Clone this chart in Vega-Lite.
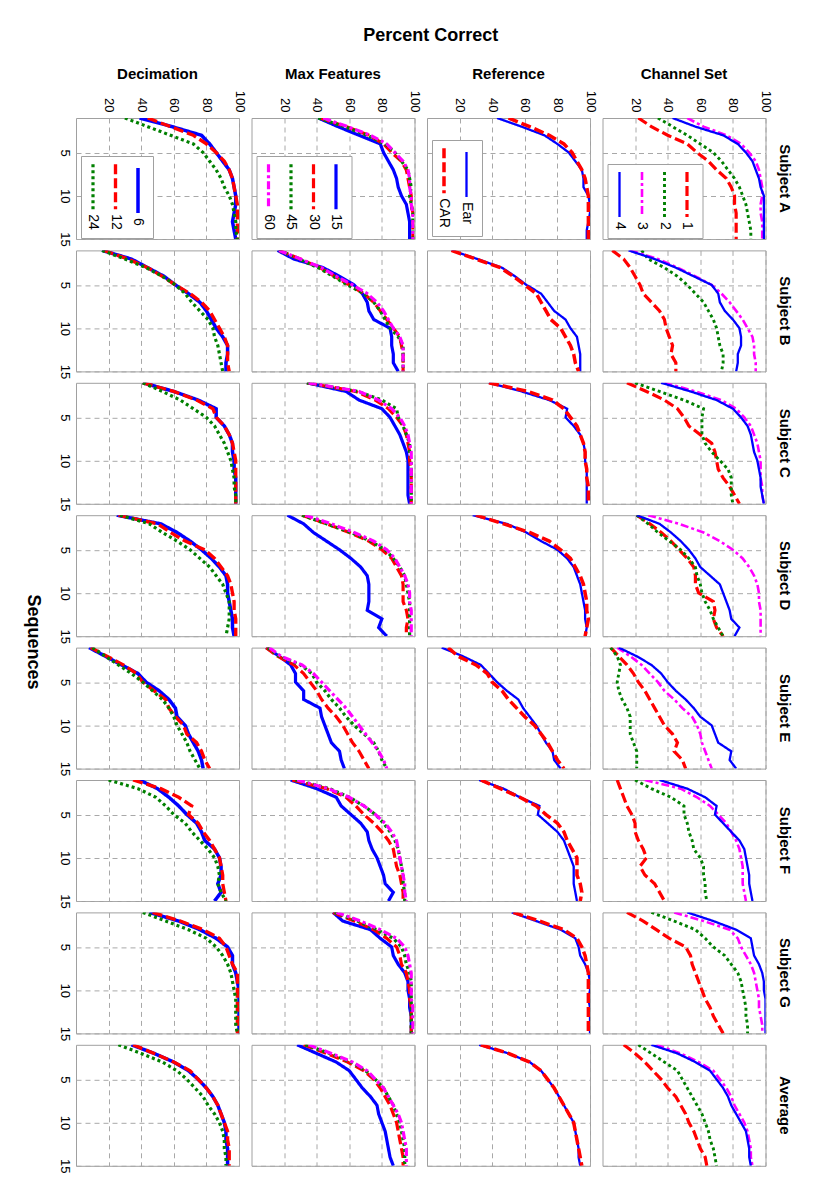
{
"$schema":"https://vega.github.io/schema/vega-lite/v6.json",
"padding":{"left":23,"top":27,"right":5,"bottom":5},
"background":"white",
"title":{"text":"Percent Correct","fontSize":18,"fontWeight":"bold","font":"Liberation Sans","anchor":"middle","offset":22,"dx":23,"color":"#000"},
"datasets":{
"dec":[
{"s":"A","k":6,"q":1,"p":39},{"s":"A","k":6,"q":2,"p":59},{"s":"A","k":6,"q":3,"p":77},{"s":"A","k":6,"q":4,"p":82},{"s":"A","k":6,"q":5,"p":86},{"s":"A","k":6,"q":6,"p":90},{"s":"A","k":6,"q":7,"p":94},{"s":"A","k":6,"q":8,"p":96},{"s":"A","k":6,"q":9,"p":97},{"s":"A","k":6,"q":10,"p":98},{"s":"A","k":6,"q":11,"p":98},{"s":"A","k":6,"q":12,"p":97},{"s":"A","k":6,"q":13,"p":96},{"s":"A","k":6,"q":14,"p":97},{"s":"A","k":6,"q":15,"p":98},
{"s":"A","k":12,"q":1,"p":44},{"s":"A","k":12,"q":2,"p":58},{"s":"A","k":12,"q":3,"p":72},{"s":"A","k":12,"q":4,"p":80},{"s":"A","k":12,"q":5,"p":86},{"s":"A","k":12,"q":6,"p":91},{"s":"A","k":12,"q":7,"p":94},{"s":"A","k":12,"q":8,"p":96},{"s":"A","k":12,"q":9,"p":97},{"s":"A","k":12,"q":10,"p":98},{"s":"A","k":12,"q":11,"p":99},{"s":"A","k":12,"q":12,"p":99},{"s":"A","k":12,"q":13,"p":99},{"s":"A","k":12,"q":14,"p":99},{"s":"A","k":12,"q":15,"p":99},
{"s":"A","k":24,"q":1,"p":30},{"s":"A","k":24,"q":2,"p":44},{"s":"A","k":24,"q":3,"p":58},{"s":"A","k":24,"q":4,"p":72},{"s":"A","k":24,"q":5,"p":78},{"s":"A","k":24,"q":6,"p":82},{"s":"A","k":24,"q":7,"p":86},{"s":"A","k":24,"q":8,"p":89},{"s":"A","k":24,"q":9,"p":91},{"s":"A","k":24,"q":10,"p":94},{"s":"A","k":24,"q":11,"p":96},{"s":"A","k":24,"q":12,"p":97},{"s":"A","k":24,"q":13,"p":98},{"s":"A","k":24,"q":14,"p":98},{"s":"A","k":24,"q":15,"p":99},
{"s":"B","k":6,"q":1,"p":16},{"s":"B","k":6,"q":2,"p":34},{"s":"B","k":6,"q":3,"p":44},{"s":"B","k":6,"q":4,"p":54},{"s":"B","k":6,"q":5,"p":61},{"s":"B","k":6,"q":6,"p":69},{"s":"B","k":6,"q":7,"p":76},{"s":"B","k":6,"q":8,"p":80},{"s":"B","k":6,"q":9,"p":83},{"s":"B","k":6,"q":10,"p":86},{"s":"B","k":6,"q":11,"p":90},{"s":"B","k":6,"q":12,"p":93},{"s":"B","k":6,"q":13,"p":93},{"s":"B","k":6,"q":14,"p":92},{"s":"B","k":6,"q":15,"p":92},
{"s":"B","k":12,"q":1,"p":17},{"s":"B","k":12,"q":2,"p":32},{"s":"B","k":12,"q":3,"p":44},{"s":"B","k":12,"q":4,"p":53},{"s":"B","k":12,"q":5,"p":61},{"s":"B","k":12,"q":6,"p":70},{"s":"B","k":12,"q":7,"p":77},{"s":"B","k":12,"q":8,"p":82},{"s":"B","k":12,"q":9,"p":85},{"s":"B","k":12,"q":10,"p":88},{"s":"B","k":12,"q":11,"p":91},{"s":"B","k":12,"q":12,"p":93},{"s":"B","k":12,"q":13,"p":93},{"s":"B","k":12,"q":14,"p":93},{"s":"B","k":12,"q":15,"p":94},
{"s":"B","k":24,"q":1,"p":16},{"s":"B","k":24,"q":2,"p":30},{"s":"B","k":24,"q":3,"p":43},{"s":"B","k":24,"q":4,"p":53},{"s":"B","k":24,"q":5,"p":61},{"s":"B","k":24,"q":6,"p":67},{"s":"B","k":24,"q":7,"p":71},{"s":"B","k":24,"q":8,"p":76},{"s":"B","k":24,"q":9,"p":81},{"s":"B","k":24,"q":10,"p":84},{"s":"B","k":24,"q":11,"p":85},{"s":"B","k":24,"q":12,"p":87},{"s":"B","k":24,"q":13,"p":88},{"s":"B","k":24,"q":14,"p":89},{"s":"B","k":24,"q":15,"p":90},
{"s":"C","k":6,"q":1,"p":41},{"s":"C","k":6,"q":2,"p":60},{"s":"C","k":6,"q":3,"p":75},{"s":"C","k":6,"q":4,"p":86},{"s":"C","k":6,"q":5,"p":86},{"s":"C","k":6,"q":6,"p":91},{"s":"C","k":6,"q":7,"p":94},{"s":"C","k":6,"q":8,"p":96},{"s":"C","k":6,"q":9,"p":96},{"s":"C","k":6,"q":10,"p":97},{"s":"C","k":6,"q":11,"p":97},{"s":"C","k":6,"q":12,"p":98},{"s":"C","k":6,"q":13,"p":98},{"s":"C","k":6,"q":14,"p":98},{"s":"C","k":6,"q":15,"p":98},
{"s":"C","k":12,"q":1,"p":41},{"s":"C","k":12,"q":2,"p":60},{"s":"C","k":12,"q":3,"p":74},{"s":"C","k":12,"q":4,"p":84},{"s":"C","k":12,"q":5,"p":86},{"s":"C","k":12,"q":6,"p":91},{"s":"C","k":12,"q":7,"p":94},{"s":"C","k":12,"q":8,"p":96},{"s":"C","k":12,"q":9,"p":97},{"s":"C","k":12,"q":10,"p":98},{"s":"C","k":12,"q":11,"p":98},{"s":"C","k":12,"q":12,"p":98},{"s":"C","k":12,"q":13,"p":98},{"s":"C","k":12,"q":14,"p":98},{"s":"C","k":12,"q":15,"p":98},
{"s":"C","k":24,"q":1,"p":41},{"s":"C","k":24,"q":2,"p":53},{"s":"C","k":24,"q":3,"p":64},{"s":"C","k":24,"q":4,"p":72},{"s":"C","k":24,"q":5,"p":80},{"s":"C","k":24,"q":6,"p":85},{"s":"C","k":24,"q":7,"p":88},{"s":"C","k":24,"q":8,"p":91},{"s":"C","k":24,"q":9,"p":93},{"s":"C","k":24,"q":10,"p":95},{"s":"C","k":24,"q":11,"p":96},{"s":"C","k":24,"q":12,"p":97},{"s":"C","k":24,"q":13,"p":97},{"s":"C","k":24,"q":14,"p":98},{"s":"C","k":24,"q":15,"p":98},
{"s":"D","k":6,"q":1,"p":25},{"s":"D","k":6,"q":2,"p":52},{"s":"D","k":6,"q":3,"p":62},{"s":"D","k":6,"q":4,"p":70},{"s":"D","k":6,"q":5,"p":77},{"s":"D","k":6,"q":6,"p":83},{"s":"D","k":6,"q":7,"p":88},{"s":"D","k":6,"q":8,"p":92},{"s":"D","k":6,"q":9,"p":93},{"s":"D","k":6,"q":10,"p":93},{"s":"D","k":6,"q":11,"p":94},{"s":"D","k":6,"q":12,"p":95},{"s":"D","k":6,"q":13,"p":96},{"s":"D","k":6,"q":14,"p":96},{"s":"D","k":6,"q":15,"p":97},
{"s":"D","k":12,"q":1,"p":26},{"s":"D","k":12,"q":2,"p":50},{"s":"D","k":12,"q":3,"p":58},{"s":"D","k":12,"q":4,"p":67},{"s":"D","k":12,"q":5,"p":79},{"s":"D","k":12,"q":6,"p":85},{"s":"D","k":12,"q":7,"p":89},{"s":"D","k":12,"q":8,"p":93},{"s":"D","k":12,"q":9,"p":95},{"s":"D","k":12,"q":10,"p":96},{"s":"D","k":12,"q":11,"p":97},{"s":"D","k":12,"q":12,"p":97},{"s":"D","k":12,"q":13,"p":98},{"s":"D","k":12,"q":14,"p":98},{"s":"D","k":12,"q":15,"p":98},
{"s":"D","k":24,"q":1,"p":27},{"s":"D","k":24,"q":2,"p":45},{"s":"D","k":24,"q":3,"p":53},{"s":"D","k":24,"q":4,"p":62},{"s":"D","k":24,"q":5,"p":70},{"s":"D","k":24,"q":6,"p":76},{"s":"D","k":24,"q":7,"p":82},{"s":"D","k":24,"q":8,"p":86},{"s":"D","k":24,"q":9,"p":90},{"s":"D","k":24,"q":10,"p":92},{"s":"D","k":24,"q":11,"p":94},{"s":"D","k":24,"q":12,"p":94},{"s":"D","k":24,"q":13,"p":94},{"s":"D","k":24,"q":14,"p":93},{"s":"D","k":24,"q":15,"p":92},
{"s":"E","k":6,"q":1,"p":8},{"s":"E","k":6,"q":2,"p":18},{"s":"E","k":6,"q":3,"p":28},{"s":"E","k":6,"q":4,"p":38},{"s":"E","k":6,"q":5,"p":43},{"s":"E","k":6,"q":6,"p":51},{"s":"E","k":6,"q":7,"p":57},{"s":"E","k":6,"q":8,"p":61},{"s":"E","k":6,"q":9,"p":62},{"s":"E","k":6,"q":10,"p":67},{"s":"E","k":6,"q":11,"p":69},{"s":"E","k":6,"q":12,"p":72},{"s":"E","k":6,"q":13,"p":75},{"s":"E","k":6,"q":14,"p":77},{"s":"E","k":6,"q":15,"p":78},
{"s":"E","k":12,"q":1,"p":9},{"s":"E","k":12,"q":2,"p":19},{"s":"E","k":12,"q":3,"p":29},{"s":"E","k":12,"q":4,"p":37},{"s":"E","k":12,"q":5,"p":41},{"s":"E","k":12,"q":6,"p":48},{"s":"E","k":12,"q":7,"p":55},{"s":"E","k":12,"q":8,"p":57},{"s":"E","k":12,"q":9,"p":61},{"s":"E","k":12,"q":10,"p":66},{"s":"E","k":12,"q":11,"p":68},{"s":"E","k":12,"q":12,"p":74},{"s":"E","k":12,"q":13,"p":77},{"s":"E","k":12,"q":14,"p":79},{"s":"E","k":12,"q":15,"p":82},
{"s":"E","k":24,"q":1,"p":10},{"s":"E","k":24,"q":2,"p":18},{"s":"E","k":24,"q":3,"p":26},{"s":"E","k":24,"q":4,"p":34},{"s":"E","k":24,"q":5,"p":41},{"s":"E","k":24,"q":6,"p":47},{"s":"E","k":24,"q":7,"p":53},{"s":"E","k":24,"q":8,"p":57},{"s":"E","k":24,"q":9,"p":60},{"s":"E","k":24,"q":10,"p":62},{"s":"E","k":24,"q":11,"p":65},{"s":"E","k":24,"q":12,"p":68},{"s":"E","k":24,"q":13,"p":70},{"s":"E","k":24,"q":14,"p":73},{"s":"E","k":24,"q":15,"p":76},
{"s":"F","k":6,"q":1,"p":39},{"s":"F","k":6,"q":2,"p":50},{"s":"F","k":6,"q":3,"p":57},{"s":"F","k":6,"q":4,"p":63},{"s":"F","k":6,"q":5,"p":68},{"s":"F","k":6,"q":6,"p":74},{"s":"F","k":6,"q":7,"p":77},{"s":"F","k":6,"q":8,"p":79},{"s":"F","k":6,"q":9,"p":85},{"s":"F","k":6,"q":10,"p":88},{"s":"F","k":6,"q":11,"p":89},{"s":"F","k":6,"q":12,"p":89},{"s":"F","k":6,"q":13,"p":87},{"s":"F","k":6,"q":14,"p":89},{"s":"F","k":6,"q":15,"p":85},
{"s":"F","k":12,"q":1,"p":35},{"s":"F","k":12,"q":2,"p":52},{"s":"F","k":12,"q":3,"p":63},{"s":"F","k":12,"q":4,"p":71},{"s":"F","k":12,"q":5,"p":69},{"s":"F","k":12,"q":6,"p":75},{"s":"F","k":12,"q":7,"p":78},{"s":"F","k":12,"q":8,"p":82},{"s":"F","k":12,"q":9,"p":85},{"s":"F","k":12,"q":10,"p":88},{"s":"F","k":12,"q":11,"p":89},{"s":"F","k":12,"q":12,"p":90},{"s":"F","k":12,"q":13,"p":90},{"s":"F","k":12,"q":14,"p":91},{"s":"F","k":12,"q":15,"p":92},
{"s":"F","k":24,"q":1,"p":20},{"s":"F","k":24,"q":2,"p":38},{"s":"F","k":24,"q":3,"p":49},{"s":"F","k":24,"q":4,"p":55},{"s":"F","k":24,"q":5,"p":60},{"s":"F","k":24,"q":6,"p":67},{"s":"F","k":24,"q":7,"p":71},{"s":"F","k":24,"q":8,"p":76},{"s":"F","k":24,"q":9,"p":81},{"s":"F","k":24,"q":10,"p":85},{"s":"F","k":24,"q":11,"p":87},{"s":"F","k":24,"q":12,"p":88},{"s":"F","k":24,"q":13,"p":87},{"s":"F","k":24,"q":14,"p":89},{"s":"F","k":24,"q":15,"p":92},
{"s":"G","k":6,"q":1,"p":45},{"s":"G","k":6,"q":2,"p":63},{"s":"G","k":6,"q":3,"p":76},{"s":"G","k":6,"q":4,"p":86},{"s":"G","k":6,"q":5,"p":93},{"s":"G","k":6,"q":6,"p":96},{"s":"G","k":6,"q":7,"p":96},{"s":"G","k":6,"q":8,"p":98},{"s":"G","k":6,"q":9,"p":99},{"s":"G","k":6,"q":10,"p":100},{"s":"G","k":6,"q":11,"p":100},{"s":"G","k":6,"q":12,"p":100},{"s":"G","k":6,"q":13,"p":100},{"s":"G","k":6,"q":14,"p":100},{"s":"G","k":6,"q":15,"p":100},
{"s":"G","k":12,"q":1,"p":47},{"s":"G","k":12,"q":2,"p":64},{"s":"G","k":12,"q":3,"p":78},{"s":"G","k":12,"q":4,"p":88},{"s":"G","k":12,"q":5,"p":92},{"s":"G","k":12,"q":6,"p":94},{"s":"G","k":12,"q":7,"p":96},{"s":"G","k":12,"q":8,"p":99},{"s":"G","k":12,"q":9,"p":99},{"s":"G","k":12,"q":10,"p":99},{"s":"G","k":12,"q":11,"p":99},{"s":"G","k":12,"q":12,"p":99},{"s":"G","k":12,"q":13,"p":99},{"s":"G","k":12,"q":14,"p":99},{"s":"G","k":12,"q":15,"p":99},
{"s":"G","k":24,"q":1,"p":41},{"s":"G","k":24,"q":2,"p":55},{"s":"G","k":24,"q":3,"p":69},{"s":"G","k":24,"q":4,"p":80},{"s":"G","k":24,"q":5,"p":86},{"s":"G","k":24,"q":6,"p":90},{"s":"G","k":24,"q":7,"p":93},{"s":"G","k":24,"q":8,"p":95},{"s":"G","k":24,"q":9,"p":96},{"s":"G","k":24,"q":10,"p":97},{"s":"G","k":24,"q":11,"p":98},{"s":"G","k":24,"q":12,"p":98},{"s":"G","k":24,"q":13,"p":98},{"s":"G","k":24,"q":14,"p":98},{"s":"G","k":24,"q":15,"p":99},
{"s":"Avg","k":6,"q":1,"p":34},{"s":"Avg","k":6,"q":2,"p":48},{"s":"Avg","k":6,"q":3,"p":60},{"s":"Avg","k":6,"q":4,"p":69},{"s":"Avg","k":6,"q":5,"p":75},{"s":"Avg","k":6,"q":6,"p":80},{"s":"Avg","k":6,"q":7,"p":84},{"s":"Avg","k":6,"q":8,"p":87},{"s":"Avg","k":6,"q":9,"p":89},{"s":"Avg","k":6,"q":10,"p":91},{"s":"Avg","k":6,"q":11,"p":92},{"s":"Avg","k":6,"q":12,"p":92},{"s":"Avg","k":6,"q":13,"p":93},{"s":"Avg","k":6,"q":14,"p":93},{"s":"Avg","k":6,"q":15,"p":93},
{"s":"Avg","k":12,"q":1,"p":35},{"s":"Avg","k":12,"q":2,"p":48},{"s":"Avg","k":12,"q":3,"p":60},{"s":"Avg","k":12,"q":4,"p":70},{"s":"Avg","k":12,"q":5,"p":75},{"s":"Avg","k":12,"q":6,"p":80},{"s":"Avg","k":12,"q":7,"p":84},{"s":"Avg","k":12,"q":8,"p":87},{"s":"Avg","k":12,"q":9,"p":89},{"s":"Avg","k":12,"q":10,"p":91},{"s":"Avg","k":12,"q":11,"p":93},{"s":"Avg","k":12,"q":12,"p":93},{"s":"Avg","k":12,"q":13,"p":94},{"s":"Avg","k":12,"q":14,"p":94},{"s":"Avg","k":12,"q":15,"p":94},
{"s":"Avg","k":24,"q":1,"p":26},{"s":"Avg","k":24,"q":2,"p":40},{"s":"Avg","k":24,"q":3,"p":53},{"s":"Avg","k":24,"q":4,"p":62},{"s":"Avg","k":24,"q":5,"p":68},{"s":"Avg","k":24,"q":6,"p":73},{"s":"Avg","k":24,"q":7,"p":78},{"s":"Avg","k":24,"q":8,"p":81},{"s":"Avg","k":24,"q":9,"p":85},{"s":"Avg","k":24,"q":10,"p":88},{"s":"Avg","k":24,"q":11,"p":90},{"s":"Avg","k":24,"q":12,"p":91},{"s":"Avg","k":24,"q":13,"p":91},{"s":"Avg","k":24,"q":14,"p":92},{"s":"Avg","k":24,"q":15,"p":92}
],
"mf":[
{"s":"A","k":15,"q":1,"p":41},{"s":"A","k":15,"q":2,"p":53},{"s":"A","k":15,"q":3,"p":66},{"s":"A","k":15,"q":4,"p":79},{"s":"A","k":15,"q":5,"p":81},{"s":"A","k":15,"q":6,"p":84},{"s":"A","k":15,"q":7,"p":87},{"s":"A","k":15,"q":8,"p":89},{"s":"A","k":15,"q":9,"p":90},{"s":"A","k":15,"q":10,"p":92},{"s":"A","k":15,"q":11,"p":95},{"s":"A","k":15,"q":12,"p":96},{"s":"A","k":15,"q":13,"p":97},{"s":"A","k":15,"q":14,"p":97},{"s":"A","k":15,"q":15,"p":97},
{"s":"A","k":30,"q":1,"p":42},{"s":"A","k":30,"q":2,"p":58},{"s":"A","k":30,"q":3,"p":72},{"s":"A","k":30,"q":4,"p":81},{"s":"A","k":30,"q":5,"p":86},{"s":"A","k":30,"q":6,"p":92},{"s":"A","k":30,"q":7,"p":95},{"s":"A","k":30,"q":8,"p":96},{"s":"A","k":30,"q":9,"p":97},{"s":"A","k":30,"q":10,"p":98},{"s":"A","k":30,"q":11,"p":98},{"s":"A","k":30,"q":12,"p":99},{"s":"A","k":30,"q":13,"p":99},{"s":"A","k":30,"q":14,"p":99},{"s":"A","k":30,"q":15,"p":99},
{"s":"A","k":45,"q":1,"p":41},{"s":"A","k":45,"q":2,"p":57},{"s":"A","k":45,"q":3,"p":71},{"s":"A","k":45,"q":4,"p":82},{"s":"A","k":45,"q":5,"p":88},{"s":"A","k":45,"q":6,"p":92},{"s":"A","k":45,"q":7,"p":96},{"s":"A","k":45,"q":8,"p":97},{"s":"A","k":45,"q":9,"p":98},{"s":"A","k":45,"q":10,"p":97},{"s":"A","k":45,"q":11,"p":98},{"s":"A","k":45,"q":12,"p":99},{"s":"A","k":45,"q":13,"p":99},{"s":"A","k":45,"q":14,"p":99},{"s":"A","k":45,"q":15,"p":99},
{"s":"A","k":60,"q":1,"p":44},{"s":"A","k":60,"q":2,"p":59},{"s":"A","k":60,"q":3,"p":73},{"s":"A","k":60,"q":4,"p":83},{"s":"A","k":60,"q":5,"p":88},{"s":"A","k":60,"q":6,"p":93},{"s":"A","k":60,"q":7,"p":96},{"s":"A","k":60,"q":8,"p":97},{"s":"A","k":60,"q":9,"p":97},{"s":"A","k":60,"q":10,"p":98},{"s":"A","k":60,"q":11,"p":98},{"s":"A","k":60,"q":12,"p":99},{"s":"A","k":60,"q":13,"p":99},{"s":"A","k":60,"q":14,"p":99},{"s":"A","k":60,"q":15,"p":99},
{"s":"B","k":15,"q":1,"p":16},{"s":"B","k":15,"q":2,"p":26},{"s":"B","k":15,"q":3,"p":44},{"s":"B","k":15,"q":4,"p":54},{"s":"B","k":15,"q":5,"p":63},{"s":"B","k":15,"q":6,"p":68},{"s":"B","k":15,"q":7,"p":71},{"s":"B","k":15,"q":8,"p":72},{"s":"B","k":15,"q":9,"p":75},{"s":"B","k":15,"q":10,"p":85},{"s":"B","k":15,"q":11,"p":86},{"s":"B","k":15,"q":12,"p":86},{"s":"B","k":15,"q":13,"p":87},{"s":"B","k":15,"q":14,"p":87},{"s":"B","k":15,"q":15,"p":90},
{"s":"B","k":30,"q":1,"p":17},{"s":"B","k":30,"q":2,"p":30},{"s":"B","k":30,"q":3,"p":42},{"s":"B","k":30,"q":4,"p":51},{"s":"B","k":30,"q":5,"p":60},{"s":"B","k":30,"q":6,"p":69},{"s":"B","k":30,"q":7,"p":75},{"s":"B","k":30,"q":8,"p":79},{"s":"B","k":30,"q":9,"p":83},{"s":"B","k":30,"q":10,"p":87},{"s":"B","k":30,"q":11,"p":91},{"s":"B","k":30,"q":12,"p":92},{"s":"B","k":30,"q":13,"p":93},{"s":"B","k":30,"q":14,"p":93},{"s":"B","k":30,"q":15,"p":93},
{"s":"B","k":45,"q":1,"p":17},{"s":"B","k":45,"q":2,"p":29},{"s":"B","k":45,"q":3,"p":41},{"s":"B","k":45,"q":4,"p":50},{"s":"B","k":45,"q":5,"p":59},{"s":"B","k":45,"q":6,"p":69},{"s":"B","k":45,"q":7,"p":75},{"s":"B","k":45,"q":8,"p":79},{"s":"B","k":45,"q":9,"p":82},{"s":"B","k":45,"q":10,"p":85},{"s":"B","k":45,"q":11,"p":90},{"s":"B","k":45,"q":12,"p":93},{"s":"B","k":45,"q":13,"p":93},{"s":"B","k":45,"q":14,"p":93},{"s":"B","k":45,"q":15,"p":93},
{"s":"B","k":60,"q":1,"p":17},{"s":"B","k":60,"q":2,"p":30},{"s":"B","k":60,"q":3,"p":43},{"s":"B","k":60,"q":4,"p":52},{"s":"B","k":60,"q":5,"p":62},{"s":"B","k":60,"q":6,"p":71},{"s":"B","k":60,"q":7,"p":77},{"s":"B","k":60,"q":8,"p":81},{"s":"B","k":60,"q":9,"p":84},{"s":"B","k":60,"q":10,"p":87},{"s":"B","k":60,"q":11,"p":91},{"s":"B","k":60,"q":12,"p":93},{"s":"B","k":60,"q":13,"p":93},{"s":"B","k":60,"q":14,"p":93},{"s":"B","k":60,"q":15,"p":93},
{"s":"C","k":15,"q":1,"p":34},{"s":"C","k":15,"q":2,"p":58},{"s":"C","k":15,"q":3,"p":66},{"s":"C","k":15,"q":4,"p":80},{"s":"C","k":15,"q":5,"p":85},{"s":"C","k":15,"q":6,"p":88},{"s":"C","k":15,"q":7,"p":91},{"s":"C","k":15,"q":8,"p":93},{"s":"C","k":15,"q":9,"p":95},{"s":"C","k":15,"q":10,"p":96},{"s":"C","k":15,"q":11,"p":96},{"s":"C","k":15,"q":12,"p":96},{"s":"C","k":15,"q":13,"p":96},{"s":"C","k":15,"q":14,"p":96},{"s":"C","k":15,"q":15,"p":97},
{"s":"C","k":30,"q":1,"p":34},{"s":"C","k":30,"q":2,"p":64},{"s":"C","k":30,"q":3,"p":76},{"s":"C","k":30,"q":4,"p":84},{"s":"C","k":30,"q":5,"p":89},{"s":"C","k":30,"q":6,"p":93},{"s":"C","k":30,"q":7,"p":95},{"s":"C","k":30,"q":8,"p":96},{"s":"C","k":30,"q":9,"p":97},{"s":"C","k":30,"q":10,"p":97},{"s":"C","k":30,"q":11,"p":98},{"s":"C","k":30,"q":12,"p":98},{"s":"C","k":30,"q":13,"p":98},{"s":"C","k":30,"q":14,"p":98},{"s":"C","k":30,"q":15,"p":98},
{"s":"C","k":45,"q":1,"p":34},{"s":"C","k":45,"q":2,"p":65},{"s":"C","k":45,"q":3,"p":80},{"s":"C","k":45,"q":4,"p":89},{"s":"C","k":45,"q":5,"p":90},{"s":"C","k":45,"q":6,"p":93},{"s":"C","k":45,"q":7,"p":95},{"s":"C","k":45,"q":8,"p":97},{"s":"C","k":45,"q":9,"p":97},{"s":"C","k":45,"q":10,"p":98},{"s":"C","k":45,"q":11,"p":98},{"s":"C","k":45,"q":12,"p":98},{"s":"C","k":45,"q":13,"p":98},{"s":"C","k":45,"q":14,"p":98},{"s":"C","k":45,"q":15,"p":98},
{"s":"C","k":60,"q":1,"p":35},{"s":"C","k":60,"q":2,"p":66},{"s":"C","k":60,"q":3,"p":78},{"s":"C","k":60,"q":4,"p":86},{"s":"C","k":60,"q":5,"p":91},{"s":"C","k":60,"q":6,"p":94},{"s":"C","k":60,"q":7,"p":96},{"s":"C","k":60,"q":8,"p":97},{"s":"C","k":60,"q":9,"p":98},{"s":"C","k":60,"q":10,"p":98},{"s":"C","k":60,"q":11,"p":98},{"s":"C","k":60,"q":12,"p":98},{"s":"C","k":60,"q":13,"p":98},{"s":"C","k":60,"q":14,"p":98},{"s":"C","k":60,"q":15,"p":98},
{"s":"D","k":15,"q":1,"p":22},{"s":"D","k":15,"q":2,"p":32},{"s":"D","k":15,"q":3,"p":38},{"s":"D","k":15,"q":4,"p":46},{"s":"D","k":15,"q":5,"p":54},{"s":"D","k":15,"q":6,"p":61},{"s":"D","k":15,"q":7,"p":67},{"s":"D","k":15,"q":8,"p":71},{"s":"D","k":15,"q":9,"p":72},{"s":"D","k":15,"q":10,"p":72},{"s":"D","k":15,"q":11,"p":72},{"s":"D","k":15,"q":12,"p":71},{"s":"D","k":15,"q":13,"p":80},{"s":"D","k":15,"q":14,"p":78},{"s":"D","k":15,"q":15,"p":83},
{"s":"D","k":30,"q":1,"p":31},{"s":"D","k":30,"q":2,"p":46},{"s":"D","k":30,"q":3,"p":60},{"s":"D","k":30,"q":4,"p":72},{"s":"D","k":30,"q":5,"p":80},{"s":"D","k":30,"q":6,"p":86},{"s":"D","k":30,"q":7,"p":89},{"s":"D","k":30,"q":8,"p":92},{"s":"D","k":30,"q":9,"p":93},{"s":"D","k":30,"q":10,"p":93},{"s":"D","k":30,"q":11,"p":93},{"s":"D","k":30,"q":12,"p":95},{"s":"D","k":30,"q":13,"p":96},{"s":"D","k":30,"q":14,"p":95},{"s":"D","k":30,"q":15,"p":95},
{"s":"D","k":45,"q":1,"p":31},{"s":"D","k":45,"q":2,"p":46},{"s":"D","k":45,"q":3,"p":61},{"s":"D","k":45,"q":4,"p":73},{"s":"D","k":45,"q":5,"p":82},{"s":"D","k":45,"q":6,"p":87},{"s":"D","k":45,"q":7,"p":91},{"s":"D","k":45,"q":8,"p":94},{"s":"D","k":45,"q":9,"p":95},{"s":"D","k":45,"q":10,"p":96},{"s":"D","k":45,"q":11,"p":97},{"s":"D","k":45,"q":12,"p":97},{"s":"D","k":45,"q":13,"p":97},{"s":"D","k":45,"q":14,"p":97},{"s":"D","k":45,"q":15,"p":97},
{"s":"D","k":60,"q":1,"p":33},{"s":"D","k":60,"q":2,"p":49},{"s":"D","k":60,"q":3,"p":63},{"s":"D","k":60,"q":4,"p":75},{"s":"D","k":60,"q":5,"p":83},{"s":"D","k":60,"q":6,"p":88},{"s":"D","k":60,"q":7,"p":91},{"s":"D","k":60,"q":8,"p":94},{"s":"D","k":60,"q":9,"p":96},{"s":"D","k":60,"q":10,"p":97},{"s":"D","k":60,"q":11,"p":97},{"s":"D","k":60,"q":12,"p":98},{"s":"D","k":60,"q":13,"p":98},{"s":"D","k":60,"q":14,"p":98},{"s":"D","k":60,"q":15,"p":98},
{"s":"E","k":15,"q":1,"p":9},{"s":"E","k":15,"q":2,"p":17},{"s":"E","k":15,"q":3,"p":24},{"s":"E","k":15,"q":4,"p":27},{"s":"E","k":15,"q":5,"p":27},{"s":"E","k":15,"q":6,"p":32},{"s":"E","k":15,"q":7,"p":32},{"s":"E","k":15,"q":8,"p":42},{"s":"E","k":15,"q":9,"p":43},{"s":"E","k":15,"q":10,"p":45},{"s":"E","k":15,"q":11,"p":47},{"s":"E","k":15,"q":12,"p":49},{"s":"E","k":15,"q":13,"p":54},{"s":"E","k":15,"q":14,"p":55},{"s":"E","k":15,"q":15,"p":57},
{"s":"E","k":30,"q":1,"p":9},{"s":"E","k":30,"q":2,"p":16},{"s":"E","k":30,"q":3,"p":26},{"s":"E","k":30,"q":4,"p":32},{"s":"E","k":30,"q":5,"p":36},{"s":"E","k":30,"q":6,"p":40},{"s":"E","k":30,"q":7,"p":43},{"s":"E","k":30,"q":8,"p":47},{"s":"E","k":30,"q":9,"p":52},{"s":"E","k":30,"q":10,"p":56},{"s":"E","k":30,"q":11,"p":59},{"s":"E","k":30,"q":12,"p":62},{"s":"E","k":30,"q":13,"p":66},{"s":"E","k":30,"q":14,"p":69},{"s":"E","k":30,"q":15,"p":72},
{"s":"E","k":45,"q":1,"p":10},{"s":"E","k":45,"q":2,"p":17},{"s":"E","k":45,"q":3,"p":30},{"s":"E","k":45,"q":4,"p":37},{"s":"E","k":45,"q":5,"p":40},{"s":"E","k":45,"q":6,"p":45},{"s":"E","k":45,"q":7,"p":49},{"s":"E","k":45,"q":8,"p":54},{"s":"E","k":45,"q":9,"p":58},{"s":"E","k":45,"q":10,"p":63},{"s":"E","k":45,"q":11,"p":69},{"s":"E","k":45,"q":12,"p":75},{"s":"E","k":45,"q":13,"p":78},{"s":"E","k":45,"q":14,"p":80},{"s":"E","k":45,"q":15,"p":83},
{"s":"E","k":60,"q":1,"p":11},{"s":"E","k":60,"q":2,"p":18},{"s":"E","k":60,"q":3,"p":31},{"s":"E","k":60,"q":4,"p":38},{"s":"E","k":60,"q":5,"p":43},{"s":"E","k":60,"q":6,"p":48},{"s":"E","k":60,"q":7,"p":53},{"s":"E","k":60,"q":8,"p":58},{"s":"E","k":60,"q":9,"p":62},{"s":"E","k":60,"q":10,"p":66},{"s":"E","k":60,"q":11,"p":70},{"s":"E","k":60,"q":12,"p":74},{"s":"E","k":60,"q":13,"p":78},{"s":"E","k":60,"q":14,"p":81},{"s":"E","k":60,"q":15,"p":83},
{"s":"F","k":15,"q":1,"p":24},{"s":"F","k":15,"q":2,"p":40},{"s":"F","k":15,"q":3,"p":52},{"s":"F","k":15,"q":4,"p":55},{"s":"F","k":15,"q":5,"p":61},{"s":"F","k":15,"q":6,"p":67},{"s":"F","k":15,"q":7,"p":71},{"s":"F","k":15,"q":8,"p":72},{"s":"F","k":15,"q":9,"p":74},{"s":"F","k":15,"q":10,"p":77},{"s":"F","k":15,"q":11,"p":79},{"s":"F","k":15,"q":12,"p":81},{"s":"F","k":15,"q":13,"p":82},{"s":"F","k":15,"q":14,"p":87},{"s":"F","k":15,"q":15,"p":84},
{"s":"F","k":30,"q":1,"p":25},{"s":"F","k":30,"q":2,"p":46},{"s":"F","k":30,"q":3,"p":58},{"s":"F","k":30,"q":4,"p":64},{"s":"F","k":30,"q":5,"p":69},{"s":"F","k":30,"q":6,"p":75},{"s":"F","k":30,"q":7,"p":80},{"s":"F","k":30,"q":8,"p":84},{"s":"F","k":30,"q":9,"p":87},{"s":"F","k":30,"q":10,"p":88},{"s":"F","k":30,"q":11,"p":89},{"s":"F","k":30,"q":12,"p":91},{"s":"F","k":30,"q":13,"p":92},{"s":"F","k":30,"q":14,"p":93},{"s":"F","k":30,"q":15,"p":93},
{"s":"F","k":45,"q":1,"p":27},{"s":"F","k":45,"q":2,"p":48},{"s":"F","k":45,"q":3,"p":60},{"s":"F","k":45,"q":4,"p":69},{"s":"F","k":45,"q":5,"p":76},{"s":"F","k":45,"q":6,"p":81},{"s":"F","k":45,"q":7,"p":85},{"s":"F","k":45,"q":8,"p":88},{"s":"F","k":45,"q":9,"p":90},{"s":"F","k":45,"q":10,"p":91},{"s":"F","k":45,"q":11,"p":92},{"s":"F","k":45,"q":12,"p":93},{"s":"F","k":45,"q":13,"p":93},{"s":"F","k":45,"q":14,"p":94},{"s":"F","k":45,"q":15,"p":94},
{"s":"F","k":60,"q":1,"p":28},{"s":"F","k":60,"q":2,"p":47},{"s":"F","k":60,"q":3,"p":60},{"s":"F","k":60,"q":4,"p":69},{"s":"F","k":60,"q":5,"p":76},{"s":"F","k":60,"q":6,"p":82},{"s":"F","k":60,"q":7,"p":86},{"s":"F","k":60,"q":8,"p":89},{"s":"F","k":60,"q":9,"p":90},{"s":"F","k":60,"q":10,"p":91},{"s":"F","k":60,"q":11,"p":92},{"s":"F","k":60,"q":12,"p":93},{"s":"F","k":60,"q":13,"p":94},{"s":"F","k":60,"q":14,"p":94},{"s":"F","k":60,"q":15,"p":95},
{"s":"G","k":15,"q":1,"p":50},{"s":"G","k":15,"q":2,"p":56},{"s":"G","k":15,"q":3,"p":73},{"s":"G","k":15,"q":4,"p":79},{"s":"G","k":15,"q":5,"p":86},{"s":"G","k":15,"q":6,"p":87},{"s":"G","k":15,"q":7,"p":90},{"s":"G","k":15,"q":8,"p":94},{"s":"G","k":15,"q":9,"p":96},{"s":"G","k":15,"q":10,"p":96},{"s":"G","k":15,"q":11,"p":97},{"s":"G","k":15,"q":12,"p":97},{"s":"G","k":15,"q":13,"p":98},{"s":"G","k":15,"q":14,"p":98},{"s":"G","k":15,"q":15,"p":98},
{"s":"G","k":30,"q":1,"p":50},{"s":"G","k":30,"q":2,"p":63},{"s":"G","k":30,"q":3,"p":75},{"s":"G","k":30,"q":4,"p":83},{"s":"G","k":30,"q":5,"p":89},{"s":"G","k":30,"q":6,"p":91},{"s":"G","k":30,"q":7,"p":92},{"s":"G","k":30,"q":8,"p":95},{"s":"G","k":30,"q":9,"p":96},{"s":"G","k":30,"q":10,"p":97},{"s":"G","k":30,"q":11,"p":97},{"s":"G","k":30,"q":12,"p":98},{"s":"G","k":30,"q":13,"p":98},{"s":"G","k":30,"q":14,"p":98},{"s":"G","k":30,"q":15,"p":98},
{"s":"G","k":45,"q":1,"p":51},{"s":"G","k":45,"q":2,"p":65},{"s":"G","k":45,"q":3,"p":77},{"s":"G","k":45,"q":4,"p":87},{"s":"G","k":45,"q":5,"p":92},{"s":"G","k":45,"q":6,"p":94},{"s":"G","k":45,"q":7,"p":95},{"s":"G","k":45,"q":8,"p":97},{"s":"G","k":45,"q":9,"p":98},{"s":"G","k":45,"q":10,"p":98},{"s":"G","k":45,"q":11,"p":98},{"s":"G","k":45,"q":12,"p":98},{"s":"G","k":45,"q":13,"p":98},{"s":"G","k":45,"q":14,"p":98},{"s":"G","k":45,"q":15,"p":98},
{"s":"G","k":60,"q":1,"p":52},{"s":"G","k":60,"q":2,"p":67},{"s":"G","k":60,"q":3,"p":79},{"s":"G","k":60,"q":4,"p":89},{"s":"G","k":60,"q":5,"p":94},{"s":"G","k":60,"q":6,"p":96},{"s":"G","k":60,"q":7,"p":97},{"s":"G","k":60,"q":8,"p":98},{"s":"G","k":60,"q":9,"p":98},{"s":"G","k":60,"q":10,"p":98},{"s":"G","k":60,"q":11,"p":98},{"s":"G","k":60,"q":12,"p":99},{"s":"G","k":60,"q":13,"p":99},{"s":"G","k":60,"q":14,"p":99},{"s":"G","k":60,"q":15,"p":99},
{"s":"Avg","k":15,"q":1,"p":28},{"s":"Avg","k":15,"q":2,"p":40},{"s":"Avg","k":15,"q":3,"p":52},{"s":"Avg","k":15,"q":4,"p":60},{"s":"Avg","k":15,"q":5,"p":64},{"s":"Avg","k":15,"q":6,"p":68},{"s":"Avg","k":15,"q":7,"p":73},{"s":"Avg","k":15,"q":8,"p":77},{"s":"Avg","k":15,"q":9,"p":78},{"s":"Avg","k":15,"q":10,"p":80},{"s":"Avg","k":15,"q":11,"p":82},{"s":"Avg","k":15,"q":12,"p":83},{"s":"Avg","k":15,"q":13,"p":84},{"s":"Avg","k":15,"q":14,"p":85},{"s":"Avg","k":15,"q":15,"p":87},
{"s":"Avg","k":30,"q":1,"p":32},{"s":"Avg","k":30,"q":2,"p":46},{"s":"Avg","k":30,"q":3,"p":59},{"s":"Avg","k":30,"q":4,"p":69},{"s":"Avg","k":30,"q":5,"p":75},{"s":"Avg","k":30,"q":6,"p":79},{"s":"Avg","k":30,"q":7,"p":82},{"s":"Avg","k":30,"q":8,"p":85},{"s":"Avg","k":30,"q":9,"p":87},{"s":"Avg","k":30,"q":10,"p":89},{"s":"Avg","k":30,"q":11,"p":90},{"s":"Avg","k":30,"q":12,"p":91},{"s":"Avg","k":30,"q":13,"p":92},{"s":"Avg","k":30,"q":14,"p":93},{"s":"Avg","k":30,"q":15,"p":93},
{"s":"Avg","k":45,"q":1,"p":33},{"s":"Avg","k":45,"q":2,"p":48},{"s":"Avg","k":45,"q":3,"p":61},{"s":"Avg","k":45,"q":4,"p":70},{"s":"Avg","k":45,"q":5,"p":76},{"s":"Avg","k":45,"q":6,"p":81},{"s":"Avg","k":45,"q":7,"p":84},{"s":"Avg","k":45,"q":8,"p":87},{"s":"Avg","k":45,"q":9,"p":89},{"s":"Avg","k":45,"q":10,"p":91},{"s":"Avg","k":45,"q":11,"p":92},{"s":"Avg","k":45,"q":12,"p":93},{"s":"Avg","k":45,"q":13,"p":94},{"s":"Avg","k":45,"q":14,"p":94},{"s":"Avg","k":45,"q":15,"p":94},
{"s":"Avg","k":60,"q":1,"p":35},{"s":"Avg","k":60,"q":2,"p":49},{"s":"Avg","k":60,"q":3,"p":62},{"s":"Avg","k":60,"q":4,"p":71},{"s":"Avg","k":60,"q":5,"p":76},{"s":"Avg","k":60,"q":6,"p":81},{"s":"Avg","k":60,"q":7,"p":84},{"s":"Avg","k":60,"q":8,"p":87},{"s":"Avg","k":60,"q":9,"p":90},{"s":"Avg","k":60,"q":10,"p":92},{"s":"Avg","k":60,"q":11,"p":93},{"s":"Avg","k":60,"q":12,"p":94},{"s":"Avg","k":60,"q":13,"p":95},{"s":"Avg","k":60,"q":14,"p":95},{"s":"Avg","k":60,"q":15,"p":95}
],
"ref":[
{"s":"A","k":"Ear","q":1,"p":43},{"s":"A","k":"Ear","q":2,"p":58},{"s":"A","k":"Ear","q":3,"p":72},{"s":"A","k":"Ear","q":4,"p":80},{"s":"A","k":"Ear","q":5,"p":87},{"s":"A","k":"Ear","q":6,"p":91},{"s":"A","k":"Ear","q":7,"p":95},{"s":"A","k":"Ear","q":8,"p":96},{"s":"A","k":"Ear","q":9,"p":96},{"s":"A","k":"Ear","q":10,"p":99},{"s":"A","k":"Ear","q":11,"p":100},{"s":"A","k":"Ear","q":12,"p":100},{"s":"A","k":"Ear","q":13,"p":99},{"s":"A","k":"Ear","q":14,"p":98},{"s":"A","k":"Ear","q":15,"p":98},
{"s":"A","k":"CAR","q":1,"p":50},{"s":"A","k":"CAR","q":2,"p":63},{"s":"A","k":"CAR","q":3,"p":75},{"s":"A","k":"CAR","q":4,"p":84},{"s":"A","k":"CAR","q":5,"p":89},{"s":"A","k":"CAR","q":6,"p":92},{"s":"A","k":"CAR","q":7,"p":95},{"s":"A","k":"CAR","q":8,"p":97},{"s":"A","k":"CAR","q":9,"p":98},{"s":"A","k":"CAR","q":10,"p":99},{"s":"A","k":"CAR","q":11,"p":99},{"s":"A","k":"CAR","q":12,"p":99},{"s":"A","k":"CAR","q":13,"p":99},{"s":"A","k":"CAR","q":14,"p":99},{"s":"A","k":"CAR","q":15,"p":99},
{"s":"B","k":"Ear","q":1,"p":15},{"s":"B","k":"Ear","q":2,"p":31},{"s":"B","k":"Ear","q":3,"p":46},{"s":"B","k":"Ear","q":4,"p":54},{"s":"B","k":"Ear","q":5,"p":61},{"s":"B","k":"Ear","q":6,"p":70},{"s":"B","k":"Ear","q":7,"p":74},{"s":"B","k":"Ear","q":8,"p":78},{"s":"B","k":"Ear","q":9,"p":85},{"s":"B","k":"Ear","q":10,"p":88},{"s":"B","k":"Ear","q":11,"p":92},{"s":"B","k":"Ear","q":12,"p":93},{"s":"B","k":"Ear","q":13,"p":94},{"s":"B","k":"Ear","q":14,"p":94},{"s":"B","k":"Ear","q":15,"p":94},
{"s":"B","k":"CAR","q":1,"p":15},{"s":"B","k":"CAR","q":2,"p":30},{"s":"B","k":"CAR","q":3,"p":45},{"s":"B","k":"CAR","q":4,"p":53},{"s":"B","k":"CAR","q":5,"p":60},{"s":"B","k":"CAR","q":6,"p":67},{"s":"B","k":"CAR","q":7,"p":70},{"s":"B","k":"CAR","q":8,"p":73},{"s":"B","k":"CAR","q":9,"p":76},{"s":"B","k":"CAR","q":10,"p":82},{"s":"B","k":"CAR","q":11,"p":85},{"s":"B","k":"CAR","q":12,"p":88},{"s":"B","k":"CAR","q":13,"p":90},{"s":"B","k":"CAR","q":14,"p":91},{"s":"B","k":"CAR","q":15,"p":93},
{"s":"C","k":"Ear","q":1,"p":38},{"s":"C","k":"Ear","q":2,"p":58},{"s":"C","k":"Ear","q":3,"p":75},{"s":"C","k":"Ear","q":4,"p":86},{"s":"C","k":"Ear","q":5,"p":85},{"s":"C","k":"Ear","q":6,"p":90},{"s":"C","k":"Ear","q":7,"p":94},{"s":"C","k":"Ear","q":8,"p":96},{"s":"C","k":"Ear","q":9,"p":97},{"s":"C","k":"Ear","q":10,"p":97},{"s":"C","k":"Ear","q":11,"p":98},{"s":"C","k":"Ear","q":12,"p":98},{"s":"C","k":"Ear","q":13,"p":98},{"s":"C","k":"Ear","q":14,"p":98},{"s":"C","k":"Ear","q":15,"p":98},
{"s":"C","k":"CAR","q":1,"p":38},{"s":"C","k":"CAR","q":2,"p":62},{"s":"C","k":"CAR","q":3,"p":77},{"s":"C","k":"CAR","q":4,"p":84},{"s":"C","k":"CAR","q":5,"p":88},{"s":"C","k":"CAR","q":6,"p":92},{"s":"C","k":"CAR","q":7,"p":94},{"s":"C","k":"CAR","q":8,"p":96},{"s":"C","k":"CAR","q":9,"p":97},{"s":"C","k":"CAR","q":10,"p":97},{"s":"C","k":"CAR","q":11,"p":98},{"s":"C","k":"CAR","q":12,"p":98},{"s":"C","k":"CAR","q":13,"p":99},{"s":"C","k":"CAR","q":14,"p":99},{"s":"C","k":"CAR","q":15,"p":99},
{"s":"D","k":"Ear","q":1,"p":28},{"s":"D","k":"Ear","q":2,"p":49},{"s":"D","k":"Ear","q":3,"p":61},{"s":"D","k":"Ear","q":4,"p":70},{"s":"D","k":"Ear","q":5,"p":80},{"s":"D","k":"Ear","q":6,"p":86},{"s":"D","k":"Ear","q":7,"p":90},{"s":"D","k":"Ear","q":8,"p":92},{"s":"D","k":"Ear","q":9,"p":94},{"s":"D","k":"Ear","q":10,"p":95},{"s":"D","k":"Ear","q":11,"p":96},{"s":"D","k":"Ear","q":12,"p":97},{"s":"D","k":"Ear","q":13,"p":97},{"s":"D","k":"Ear","q":14,"p":98},{"s":"D","k":"Ear","q":15,"p":97},
{"s":"D","k":"CAR","q":1,"p":30},{"s":"D","k":"CAR","q":2,"p":47},{"s":"D","k":"CAR","q":3,"p":63},{"s":"D","k":"CAR","q":4,"p":75},{"s":"D","k":"CAR","q":5,"p":82},{"s":"D","k":"CAR","q":6,"p":88},{"s":"D","k":"CAR","q":7,"p":91},{"s":"D","k":"CAR","q":8,"p":94},{"s":"D","k":"CAR","q":9,"p":96},{"s":"D","k":"CAR","q":10,"p":97},{"s":"D","k":"CAR","q":11,"p":98},{"s":"D","k":"CAR","q":12,"p":98},{"s":"D","k":"CAR","q":13,"p":99},{"s":"D","k":"CAR","q":14,"p":98},{"s":"D","k":"CAR","q":15,"p":97},
{"s":"E","k":"Ear","q":1,"p":9},{"s":"E","k":"Ear","q":2,"p":22},{"s":"E","k":"Ear","q":3,"p":33},{"s":"E","k":"Ear","q":4,"p":38},{"s":"E","k":"Ear","q":5,"p":43},{"s":"E","k":"Ear","q":6,"p":49},{"s":"E","k":"Ear","q":7,"p":56},{"s":"E","k":"Ear","q":8,"p":59},{"s":"E","k":"Ear","q":9,"p":63},{"s":"E","k":"Ear","q":10,"p":67},{"s":"E","k":"Ear","q":11,"p":70},{"s":"E","k":"Ear","q":12,"p":73},{"s":"E","k":"Ear","q":13,"p":77},{"s":"E","k":"Ear","q":14,"p":78},{"s":"E","k":"Ear","q":15,"p":82},
{"s":"E","k":"CAR","q":1,"p":13},{"s":"E","k":"CAR","q":2,"p":19},{"s":"E","k":"CAR","q":3,"p":30},{"s":"E","k":"CAR","q":4,"p":37},{"s":"E","k":"CAR","q":5,"p":40},{"s":"E","k":"CAR","q":6,"p":46},{"s":"E","k":"CAR","q":7,"p":50},{"s":"E","k":"CAR","q":8,"p":55},{"s":"E","k":"CAR","q":9,"p":60},{"s":"E","k":"CAR","q":10,"p":66},{"s":"E","k":"CAR","q":11,"p":70},{"s":"E","k":"CAR","q":12,"p":74},{"s":"E","k":"CAR","q":13,"p":77},{"s":"E","k":"CAR","q":14,"p":80},{"s":"E","k":"CAR","q":15,"p":84},
{"s":"F","k":"Ear","q":1,"p":32},{"s":"F","k":"Ear","q":2,"p":47},{"s":"F","k":"Ear","q":3,"p":57},{"s":"F","k":"Ear","q":4,"p":69},{"s":"F","k":"Ear","q":5,"p":68},{"s":"F","k":"Ear","q":6,"p":74},{"s":"F","k":"Ear","q":7,"p":80},{"s":"F","k":"Ear","q":8,"p":84},{"s":"F","k":"Ear","q":9,"p":86},{"s":"F","k":"Ear","q":10,"p":88},{"s":"F","k":"Ear","q":11,"p":90},{"s":"F","k":"Ear","q":12,"p":90},{"s":"F","k":"Ear","q":13,"p":90},{"s":"F","k":"Ear","q":14,"p":91},{"s":"F","k":"Ear","q":15,"p":92},
{"s":"F","k":"CAR","q":1,"p":33},{"s":"F","k":"CAR","q":2,"p":45},{"s":"F","k":"CAR","q":3,"p":57},{"s":"F","k":"CAR","q":4,"p":67},{"s":"F","k":"CAR","q":5,"p":73},{"s":"F","k":"CAR","q":6,"p":80},{"s":"F","k":"CAR","q":7,"p":84},{"s":"F","k":"CAR","q":8,"p":86},{"s":"F","k":"CAR","q":9,"p":89},{"s":"F","k":"CAR","q":10,"p":92},{"s":"F","k":"CAR","q":11,"p":92},{"s":"F","k":"CAR","q":12,"p":92},{"s":"F","k":"CAR","q":13,"p":94},{"s":"F","k":"CAR","q":14,"p":95},{"s":"F","k":"CAR","q":15,"p":94},
{"s":"G","k":"Ear","q":1,"p":52},{"s":"G","k":"Ear","q":2,"p":67},{"s":"G","k":"Ear","q":3,"p":82},{"s":"G","k":"Ear","q":4,"p":91},{"s":"G","k":"Ear","q":5,"p":93},{"s":"G","k":"Ear","q":6,"p":94},{"s":"G","k":"Ear","q":7,"p":97},{"s":"G","k":"Ear","q":8,"p":99},{"s":"G","k":"Ear","q":9,"p":100},{"s":"G","k":"Ear","q":10,"p":100},{"s":"G","k":"Ear","q":11,"p":99},{"s":"G","k":"Ear","q":12,"p":100},{"s":"G","k":"Ear","q":13,"p":100},{"s":"G","k":"Ear","q":14,"p":100},{"s":"G","k":"Ear","q":15,"p":100},
{"s":"G","k":"CAR","q":1,"p":53},{"s":"G","k":"CAR","q":2,"p":69},{"s":"G","k":"CAR","q":3,"p":84},{"s":"G","k":"CAR","q":4,"p":92},{"s":"G","k":"CAR","q":5,"p":95},{"s":"G","k":"CAR","q":6,"p":97},{"s":"G","k":"CAR","q":7,"p":98},{"s":"G","k":"CAR","q":8,"p":99},{"s":"G","k":"CAR","q":9,"p":99},{"s":"G","k":"CAR","q":10,"p":99},{"s":"G","k":"CAR","q":11,"p":99},{"s":"G","k":"CAR","q":12,"p":99},{"s":"G","k":"CAR","q":13,"p":99},{"s":"G","k":"CAR","q":14,"p":99},{"s":"G","k":"CAR","q":15,"p":99},
{"s":"Avg","k":"Ear","q":1,"p":32},{"s":"Avg","k":"Ear","q":2,"p":50},{"s":"Avg","k":"Ear","q":3,"p":63},{"s":"Avg","k":"Ear","q":4,"p":70},{"s":"Avg","k":"Ear","q":5,"p":74},{"s":"Avg","k":"Ear","q":6,"p":78},{"s":"Avg","k":"Ear","q":7,"p":81},{"s":"Avg","k":"Ear","q":8,"p":84},{"s":"Avg","k":"Ear","q":9,"p":87},{"s":"Avg","k":"Ear","q":10,"p":90},{"s":"Avg","k":"Ear","q":11,"p":91},{"s":"Avg","k":"Ear","q":12,"p":92},{"s":"Avg","k":"Ear","q":13,"p":93},{"s":"Avg","k":"Ear","q":14,"p":93},{"s":"Avg","k":"Ear","q":15,"p":94},
{"s":"Avg","k":"CAR","q":1,"p":33},{"s":"Avg","k":"CAR","q":2,"p":50},{"s":"Avg","k":"CAR","q":3,"p":63},{"s":"Avg","k":"CAR","q":4,"p":70},{"s":"Avg","k":"CAR","q":5,"p":74},{"s":"Avg","k":"CAR","q":6,"p":78},{"s":"Avg","k":"CAR","q":7,"p":81},{"s":"Avg","k":"CAR","q":8,"p":84},{"s":"Avg","k":"CAR","q":9,"p":87},{"s":"Avg","k":"CAR","q":10,"p":90},{"s":"Avg","k":"CAR","q":11,"p":91},{"s":"Avg","k":"CAR","q":12,"p":92},{"s":"Avg","k":"CAR","q":13,"p":93},{"s":"Avg","k":"CAR","q":14,"p":94},{"s":"Avg","k":"CAR","q":15,"p":95}
],
"cs":[
{"s":"A","k":1,"q":1,"p":22},{"s":"A","k":1,"q":2,"p":30},{"s":"A","k":1,"q":3,"p":40},{"s":"A","k":1,"q":4,"p":52},{"s":"A","k":1,"q":5,"p":58},{"s":"A","k":1,"q":6,"p":65},{"s":"A","k":1,"q":7,"p":70},{"s":"A","k":1,"q":8,"p":76},{"s":"A","k":1,"q":9,"p":79},{"s":"A","k":1,"q":10,"p":81},{"s":"A","k":1,"q":11,"p":81},{"s":"A","k":1,"q":12,"p":82},{"s":"A","k":1,"q":13,"p":82},{"s":"A","k":1,"q":14,"p":82},{"s":"A","k":1,"q":15,"p":82},
{"s":"A","k":2,"q":1,"p":34},{"s":"A","k":2,"q":2,"p":43},{"s":"A","k":2,"q":3,"p":52},{"s":"A","k":2,"q":4,"p":60},{"s":"A","k":2,"q":5,"p":68},{"s":"A","k":2,"q":6,"p":73},{"s":"A","k":2,"q":7,"p":77},{"s":"A","k":2,"q":8,"p":81},{"s":"A","k":2,"q":9,"p":84},{"s":"A","k":2,"q":10,"p":86},{"s":"A","k":2,"q":11,"p":88},{"s":"A","k":2,"q":12,"p":89},{"s":"A","k":2,"q":13,"p":90},{"s":"A","k":2,"q":14,"p":91},{"s":"A","k":2,"q":15,"p":91},
{"s":"A","k":3,"q":1,"p":52},{"s":"A","k":3,"q":2,"p":62},{"s":"A","k":3,"q":3,"p":76},{"s":"A","k":3,"q":4,"p":85},{"s":"A","k":3,"q":5,"p":90},{"s":"A","k":3,"q":6,"p":94},{"s":"A","k":3,"q":7,"p":96},{"s":"A","k":3,"q":8,"p":97},{"s":"A","k":3,"q":9,"p":98},{"s":"A","k":3,"q":10,"p":98},{"s":"A","k":3,"q":11,"p":97},{"s":"A","k":3,"q":12,"p":97},{"s":"A","k":3,"q":13,"p":98},{"s":"A","k":3,"q":14,"p":98},{"s":"A","k":3,"q":15,"p":98},
{"s":"A","k":4,"q":1,"p":43},{"s":"A","k":4,"q":2,"p":57},{"s":"A","k":4,"q":3,"p":74},{"s":"A","k":4,"q":4,"p":83},{"s":"A","k":4,"q":5,"p":88},{"s":"A","k":4,"q":6,"p":92},{"s":"A","k":4,"q":7,"p":94},{"s":"A","k":4,"q":8,"p":96},{"s":"A","k":4,"q":9,"p":97},{"s":"A","k":4,"q":10,"p":99},{"s":"A","k":4,"q":11,"p":99},{"s":"A","k":4,"q":12,"p":99},{"s":"A","k":4,"q":13,"p":99},{"s":"A","k":4,"q":14,"p":99},{"s":"A","k":4,"q":15,"p":99},
{"s":"B","k":1,"q":1,"p":6},{"s":"B","k":1,"q":2,"p":13},{"s":"B","k":1,"q":3,"p":17},{"s":"B","k":1,"q":4,"p":20},{"s":"B","k":1,"q":5,"p":23},{"s":"B","k":1,"q":6,"p":25},{"s":"B","k":1,"q":7,"p":30},{"s":"B","k":1,"q":8,"p":35},{"s":"B","k":1,"q":9,"p":38},{"s":"B","k":1,"q":10,"p":39},{"s":"B","k":1,"q":11,"p":41},{"s":"B","k":1,"q":12,"p":43},{"s":"B","k":1,"q":13,"p":42},{"s":"B","k":1,"q":14,"p":45},{"s":"B","k":1,"q":15,"p":45},
{"s":"B","k":2,"q":1,"p":24},{"s":"B","k":2,"q":2,"p":28},{"s":"B","k":2,"q":3,"p":38},{"s":"B","k":2,"q":4,"p":46},{"s":"B","k":2,"q":5,"p":52},{"s":"B","k":2,"q":6,"p":57},{"s":"B","k":2,"q":7,"p":62},{"s":"B","k":2,"q":8,"p":65},{"s":"B","k":2,"q":9,"p":68},{"s":"B","k":2,"q":10,"p":70},{"s":"B","k":2,"q":11,"p":71},{"s":"B","k":2,"q":12,"p":72},{"s":"B","k":2,"q":13,"p":74},{"s":"B","k":2,"q":14,"p":74},{"s":"B","k":2,"q":15,"p":73},
{"s":"B","k":3,"q":1,"p":17},{"s":"B","k":3,"q":2,"p":34},{"s":"B","k":3,"q":3,"p":46},{"s":"B","k":3,"q":4,"p":57},{"s":"B","k":3,"q":5,"p":67},{"s":"B","k":3,"q":6,"p":73},{"s":"B","k":3,"q":7,"p":78},{"s":"B","k":3,"q":8,"p":82},{"s":"B","k":3,"q":9,"p":86},{"s":"B","k":3,"q":10,"p":89},{"s":"B","k":3,"q":11,"p":92},{"s":"B","k":3,"q":12,"p":93},{"s":"B","k":3,"q":13,"p":93},{"s":"B","k":3,"q":14,"p":94},{"s":"B","k":3,"q":15,"p":94},
{"s":"B","k":4,"q":1,"p":16},{"s":"B","k":4,"q":2,"p":32},{"s":"B","k":4,"q":3,"p":45},{"s":"B","k":4,"q":4,"p":56},{"s":"B","k":4,"q":5,"p":67},{"s":"B","k":4,"q":6,"p":71},{"s":"B","k":4,"q":7,"p":72},{"s":"B","k":4,"q":8,"p":75},{"s":"B","k":4,"q":9,"p":80},{"s":"B","k":4,"q":10,"p":84},{"s":"B","k":4,"q":11,"p":85},{"s":"B","k":4,"q":12,"p":85},{"s":"B","k":4,"q":13,"p":83},{"s":"B","k":4,"q":14,"p":83},{"s":"B","k":4,"q":15,"p":82},
{"s":"C","k":1,"q":1,"p":15},{"s":"C","k":1,"q":2,"p":27},{"s":"C","k":1,"q":3,"p":38},{"s":"C","k":1,"q":4,"p":46},{"s":"C","k":1,"q":5,"p":50},{"s":"C","k":1,"q":6,"p":53},{"s":"C","k":1,"q":7,"p":60},{"s":"C","k":1,"q":8,"p":67},{"s":"C","k":1,"q":9,"p":69},{"s":"C","k":1,"q":10,"p":70},{"s":"C","k":1,"q":11,"p":71},{"s":"C","k":1,"q":12,"p":74},{"s":"C","k":1,"q":13,"p":78},{"s":"C","k":1,"q":14,"p":81},{"s":"C","k":1,"q":15,"p":84},
{"s":"C","k":2,"q":1,"p":20},{"s":"C","k":2,"q":2,"p":35},{"s":"C","k":2,"q":3,"p":50},{"s":"C","k":2,"q":4,"p":62},{"s":"C","k":2,"q":5,"p":61},{"s":"C","k":2,"q":6,"p":61},{"s":"C","k":2,"q":7,"p":61},{"s":"C","k":2,"q":8,"p":63},{"s":"C","k":2,"q":9,"p":67},{"s":"C","k":2,"q":10,"p":72},{"s":"C","k":2,"q":11,"p":77},{"s":"C","k":2,"q":12,"p":79},{"s":"C","k":2,"q":13,"p":79},{"s":"C","k":2,"q":14,"p":79},{"s":"C","k":2,"q":15,"p":80},
{"s":"C","k":3,"q":1,"p":38},{"s":"C","k":3,"q":2,"p":57},{"s":"C","k":3,"q":3,"p":73},{"s":"C","k":3,"q":4,"p":82},{"s":"C","k":3,"q":5,"p":87},{"s":"C","k":3,"q":6,"p":91},{"s":"C","k":3,"q":7,"p":93},{"s":"C","k":3,"q":8,"p":95},{"s":"C","k":3,"q":9,"p":96},{"s":"C","k":3,"q":10,"p":97},{"s":"C","k":3,"q":11,"p":97},{"s":"C","k":3,"q":12,"p":97},{"s":"C","k":3,"q":13,"p":98},{"s":"C","k":3,"q":14,"p":98},{"s":"C","k":3,"q":15,"p":99},
{"s":"C","k":4,"q":1,"p":36},{"s":"C","k":4,"q":2,"p":54},{"s":"C","k":4,"q":3,"p":70},{"s":"C","k":4,"q":4,"p":80},{"s":"C","k":4,"q":5,"p":85},{"s":"C","k":4,"q":6,"p":89},{"s":"C","k":4,"q":7,"p":91},{"s":"C","k":4,"q":8,"p":92},{"s":"C","k":4,"q":9,"p":93},{"s":"C","k":4,"q":10,"p":95},{"s":"C","k":4,"q":11,"p":96},{"s":"C","k":4,"q":12,"p":97},{"s":"C","k":4,"q":13,"p":97},{"s":"C","k":4,"q":14,"p":98},{"s":"C","k":4,"q":15,"p":99},
{"s":"D","k":1,"q":1,"p":21},{"s":"D","k":1,"q":2,"p":29},{"s":"D","k":1,"q":3,"p":36},{"s":"D","k":1,"q":4,"p":42},{"s":"D","k":1,"q":5,"p":47},{"s":"D","k":1,"q":6,"p":52},{"s":"D","k":1,"q":7,"p":56},{"s":"D","k":1,"q":8,"p":57},{"s":"D","k":1,"q":9,"p":57},{"s":"D","k":1,"q":10,"p":59},{"s":"D","k":1,"q":11,"p":68},{"s":"D","k":1,"q":12,"p":69},{"s":"D","k":1,"q":13,"p":68},{"s":"D","k":1,"q":14,"p":70},{"s":"D","k":1,"q":15,"p":74},
{"s":"D","k":2,"q":1,"p":21},{"s":"D","k":2,"q":2,"p":28},{"s":"D","k":2,"q":3,"p":34},{"s":"D","k":2,"q":4,"p":41},{"s":"D","k":2,"q":5,"p":48},{"s":"D","k":2,"q":6,"p":53},{"s":"D","k":2,"q":7,"p":57},{"s":"D","k":2,"q":8,"p":58},{"s":"D","k":2,"q":9,"p":60},{"s":"D","k":2,"q":10,"p":61},{"s":"D","k":2,"q":11,"p":63},{"s":"D","k":2,"q":12,"p":66},{"s":"D","k":2,"q":13,"p":68},{"s":"D","k":2,"q":14,"p":71},{"s":"D","k":2,"q":15,"p":74},
{"s":"D","k":3,"q":1,"p":28},{"s":"D","k":3,"q":2,"p":47},{"s":"D","k":3,"q":3,"p":62},{"s":"D","k":3,"q":4,"p":72},{"s":"D","k":3,"q":5,"p":80},{"s":"D","k":3,"q":6,"p":86},{"s":"D","k":3,"q":7,"p":90},{"s":"D","k":3,"q":8,"p":93},{"s":"D","k":3,"q":9,"p":95},{"s":"D","k":3,"q":10,"p":96},{"s":"D","k":3,"q":11,"p":96},{"s":"D","k":3,"q":12,"p":97},{"s":"D","k":3,"q":13,"p":97},{"s":"D","k":3,"q":14,"p":97},{"s":"D","k":3,"q":15,"p":97},
{"s":"D","k":4,"q":1,"p":21},{"s":"D","k":4,"q":2,"p":35},{"s":"D","k":4,"q":3,"p":42},{"s":"D","k":4,"q":4,"p":48},{"s":"D","k":4,"q":5,"p":53},{"s":"D","k":4,"q":6,"p":57},{"s":"D","k":4,"q":7,"p":60},{"s":"D","k":4,"q":8,"p":66},{"s":"D","k":4,"q":9,"p":72},{"s":"D","k":4,"q":10,"p":74},{"s":"D","k":4,"q":11,"p":76},{"s":"D","k":4,"q":12,"p":78},{"s":"D","k":4,"q":13,"p":79},{"s":"D","k":4,"q":14,"p":84},{"s":"D","k":4,"q":15,"p":81},
{"s":"E","k":1,"q":1,"p":5},{"s":"E","k":1,"q":2,"p":10},{"s":"E","k":1,"q":3,"p":15},{"s":"E","k":1,"q":4,"p":19},{"s":"E","k":1,"q":5,"p":22},{"s":"E","k":1,"q":6,"p":26},{"s":"E","k":1,"q":7,"p":29},{"s":"E","k":1,"q":8,"p":32},{"s":"E","k":1,"q":9,"p":35},{"s":"E","k":1,"q":10,"p":38},{"s":"E","k":1,"q":11,"p":43},{"s":"E","k":1,"q":12,"p":46},{"s":"E","k":1,"q":13,"p":44},{"s":"E","k":1,"q":14,"p":49},{"s":"E","k":1,"q":15,"p":51},
{"s":"E","k":2,"q":1,"p":5},{"s":"E","k":2,"q":2,"p":9},{"s":"E","k":2,"q":3,"p":11},{"s":"E","k":2,"q":4,"p":10},{"s":"E","k":2,"q":5,"p":9},{"s":"E","k":2,"q":6,"p":10},{"s":"E","k":2,"q":7,"p":12},{"s":"E","k":2,"q":8,"p":15},{"s":"E","k":2,"q":9,"p":17},{"s":"E","k":2,"q":10,"p":17},{"s":"E","k":2,"q":11,"p":17},{"s":"E","k":2,"q":12,"p":19},{"s":"E","k":2,"q":13,"p":21},{"s":"E","k":2,"q":14,"p":21},{"s":"E","k":2,"q":15,"p":21},
{"s":"E","k":3,"q":1,"p":9},{"s":"E","k":3,"q":2,"p":17},{"s":"E","k":3,"q":3,"p":24},{"s":"E","k":3,"q":4,"p":29},{"s":"E","k":3,"q":5,"p":34},{"s":"E","k":3,"q":6,"p":38},{"s":"E","k":3,"q":7,"p":44},{"s":"E","k":3,"q":8,"p":49},{"s":"E","k":3,"q":9,"p":55},{"s":"E","k":3,"q":10,"p":58},{"s":"E","k":3,"q":11,"p":60},{"s":"E","k":3,"q":12,"p":61},{"s":"E","k":3,"q":13,"p":63},{"s":"E","k":3,"q":14,"p":65},{"s":"E","k":3,"q":15,"p":67},
{"s":"E","k":4,"q":1,"p":10},{"s":"E","k":4,"q":2,"p":21},{"s":"E","k":4,"q":3,"p":30},{"s":"E","k":4,"q":4,"p":36},{"s":"E","k":4,"q":5,"p":40},{"s":"E","k":4,"q":6,"p":45},{"s":"E","k":4,"q":7,"p":51},{"s":"E","k":4,"q":8,"p":56},{"s":"E","k":4,"q":9,"p":60},{"s":"E","k":4,"q":10,"p":67},{"s":"E","k":4,"q":11,"p":69},{"s":"E","k":4,"q":12,"p":71},{"s":"E","k":4,"q":13,"p":79},{"s":"E","k":4,"q":14,"p":78},{"s":"E","k":4,"q":15,"p":82},
{"s":"F","k":1,"q":1,"p":9},{"s":"F","k":1,"q":2,"p":11},{"s":"F","k":1,"q":3,"p":13},{"s":"F","k":1,"q":4,"p":15},{"s":"F","k":1,"q":5,"p":18},{"s":"F","k":1,"q":6,"p":20},{"s":"F","k":1,"q":7,"p":20},{"s":"F","k":1,"q":8,"p":22},{"s":"F","k":1,"q":9,"p":25},{"s":"F","k":1,"q":10,"p":27},{"s":"F","k":1,"q":11,"p":23},{"s":"F","k":1,"q":12,"p":26},{"s":"F","k":1,"q":13,"p":32},{"s":"F","k":1,"q":14,"p":35},{"s":"F","k":1,"q":15,"p":38},
{"s":"F","k":2,"q":1,"p":20},{"s":"F","k":2,"q":2,"p":30},{"s":"F","k":2,"q":3,"p":42},{"s":"F","k":2,"q":4,"p":50},{"s":"F","k":2,"q":5,"p":50},{"s":"F","k":2,"q":6,"p":52},{"s":"F","k":2,"q":7,"p":53},{"s":"F","k":2,"q":8,"p":55},{"s":"F","k":2,"q":9,"p":56},{"s":"F","k":2,"q":10,"p":60},{"s":"F","k":2,"q":11,"p":62},{"s":"F","k":2,"q":12,"p":62},{"s":"F","k":2,"q":13,"p":63},{"s":"F","k":2,"q":14,"p":63},{"s":"F","k":2,"q":15,"p":64},
{"s":"F","k":3,"q":1,"p":26},{"s":"F","k":3,"q":2,"p":48},{"s":"F","k":3,"q":3,"p":58},{"s":"F","k":3,"q":4,"p":66},{"s":"F","k":3,"q":5,"p":71},{"s":"F","k":3,"q":6,"p":76},{"s":"F","k":3,"q":7,"p":79},{"s":"F","k":3,"q":8,"p":82},{"s":"F","k":3,"q":9,"p":84},{"s":"F","k":3,"q":10,"p":85},{"s":"F","k":3,"q":11,"p":86},{"s":"F","k":3,"q":12,"p":86},{"s":"F","k":3,"q":13,"p":86},{"s":"F","k":3,"q":14,"p":87},{"s":"F","k":3,"q":15,"p":88},
{"s":"F","k":4,"q":1,"p":35},{"s":"F","k":4,"q":2,"p":52},{"s":"F","k":4,"q":3,"p":63},{"s":"F","k":4,"q":4,"p":70},{"s":"F","k":4,"q":5,"p":69},{"s":"F","k":4,"q":6,"p":74},{"s":"F","k":4,"q":7,"p":79},{"s":"F","k":4,"q":8,"p":84},{"s":"F","k":4,"q":9,"p":87},{"s":"F","k":4,"q":10,"p":88},{"s":"F","k":4,"q":11,"p":89},{"s":"F","k":4,"q":12,"p":90},{"s":"F","k":4,"q":13,"p":90},{"s":"F","k":4,"q":14,"p":91},{"s":"F","k":4,"q":15,"p":92},
{"s":"G","k":1,"q":1,"p":15},{"s":"G","k":1,"q":2,"p":25},{"s":"G","k":1,"q":3,"p":33},{"s":"G","k":1,"q":4,"p":41},{"s":"G","k":1,"q":5,"p":51},{"s":"G","k":1,"q":6,"p":54},{"s":"G","k":1,"q":7,"p":55},{"s":"G","k":1,"q":8,"p":57},{"s":"G","k":1,"q":9,"p":59},{"s":"G","k":1,"q":10,"p":61},{"s":"G","k":1,"q":11,"p":63},{"s":"G","k":1,"q":12,"p":66},{"s":"G","k":1,"q":13,"p":68},{"s":"G","k":1,"q":14,"p":71},{"s":"G","k":1,"q":15,"p":74},
{"s":"G","k":2,"q":1,"p":30},{"s":"G","k":2,"q":2,"p":44},{"s":"G","k":2,"q":3,"p":57},{"s":"G","k":2,"q":4,"p":63},{"s":"G","k":2,"q":5,"p":68},{"s":"G","k":2,"q":6,"p":75},{"s":"G","k":2,"q":7,"p":79},{"s":"G","k":2,"q":8,"p":83},{"s":"G","k":2,"q":9,"p":85},{"s":"G","k":2,"q":10,"p":86},{"s":"G","k":2,"q":11,"p":87},{"s":"G","k":2,"q":12,"p":88},{"s":"G","k":2,"q":13,"p":88},{"s":"G","k":2,"q":14,"p":89},{"s":"G","k":2,"q":15,"p":89},
{"s":"G","k":3,"q":1,"p":44},{"s":"G","k":3,"q":2,"p":62},{"s":"G","k":3,"q":3,"p":78},{"s":"G","k":3,"q":4,"p":83},{"s":"G","k":3,"q":5,"p":85},{"s":"G","k":3,"q":6,"p":88},{"s":"G","k":3,"q":7,"p":91},{"s":"G","k":3,"q":8,"p":93},{"s":"G","k":3,"q":9,"p":94},{"s":"G","k":3,"q":10,"p":95},{"s":"G","k":3,"q":11,"p":96},{"s":"G","k":3,"q":12,"p":96},{"s":"G","k":3,"q":13,"p":97},{"s":"G","k":3,"q":14,"p":98},{"s":"G","k":3,"q":15,"p":98},
{"s":"G","k":4,"q":1,"p":52},{"s":"G","k":4,"q":2,"p":68},{"s":"G","k":4,"q":3,"p":82},{"s":"G","k":4,"q":4,"p":91},{"s":"G","k":4,"q":5,"p":92},{"s":"G","k":4,"q":6,"p":93},{"s":"G","k":4,"q":7,"p":96},{"s":"G","k":4,"q":8,"p":98},{"s":"G","k":4,"q":9,"p":99},{"s":"G","k":4,"q":10,"p":99},{"s":"G","k":4,"q":11,"p":100},{"s":"G","k":4,"q":12,"p":100},{"s":"G","k":4,"q":13,"p":100},{"s":"G","k":4,"q":14,"p":100},{"s":"G","k":4,"q":15,"p":100},
{"s":"Avg","k":1,"q":1,"p":13},{"s":"Avg","k":1,"q":2,"p":20},{"s":"Avg","k":1,"q":3,"p":26},{"s":"Avg","k":1,"q":4,"p":31},{"s":"Avg","k":1,"q":5,"p":36},{"s":"Avg","k":1,"q":6,"p":40},{"s":"Avg","k":1,"q":7,"p":45},{"s":"Avg","k":1,"q":8,"p":48},{"s":"Avg","k":1,"q":9,"p":51},{"s":"Avg","k":1,"q":10,"p":53},{"s":"Avg","k":1,"q":11,"p":56},{"s":"Avg","k":1,"q":12,"p":58},{"s":"Avg","k":1,"q":13,"p":60},{"s":"Avg","k":1,"q":14,"p":63},{"s":"Avg","k":1,"q":15,"p":64},
{"s":"Avg","k":2,"q":1,"p":22},{"s":"Avg","k":2,"q":2,"p":30},{"s":"Avg","k":2,"q":3,"p":38},{"s":"Avg","k":2,"q":4,"p":46},{"s":"Avg","k":2,"q":5,"p":49},{"s":"Avg","k":2,"q":6,"p":52},{"s":"Avg","k":2,"q":7,"p":55},{"s":"Avg","k":2,"q":8,"p":58},{"s":"Avg","k":2,"q":9,"p":61},{"s":"Avg","k":2,"q":10,"p":63},{"s":"Avg","k":2,"q":11,"p":65},{"s":"Avg","k":2,"q":12,"p":66},{"s":"Avg","k":2,"q":13,"p":68},{"s":"Avg","k":2,"q":14,"p":69},{"s":"Avg","k":2,"q":15,"p":70},
{"s":"Avg","k":3,"q":1,"p":33},{"s":"Avg","k":3,"q":2,"p":48},{"s":"Avg","k":3,"q":3,"p":59},{"s":"Avg","k":3,"q":4,"p":68},{"s":"Avg","k":3,"q":5,"p":72},{"s":"Avg","k":3,"q":6,"p":76},{"s":"Avg","k":3,"q":7,"p":79},{"s":"Avg","k":3,"q":8,"p":81},{"s":"Avg","k":3,"q":9,"p":84},{"s":"Avg","k":3,"q":10,"p":87},{"s":"Avg","k":3,"q":11,"p":89},{"s":"Avg","k":3,"q":12,"p":90},{"s":"Avg","k":3,"q":13,"p":91},{"s":"Avg","k":3,"q":14,"p":91},{"s":"Avg","k":3,"q":15,"p":92},
{"s":"Avg","k":4,"q":1,"p":30},{"s":"Avg","k":4,"q":2,"p":46},{"s":"Avg","k":4,"q":3,"p":57},{"s":"Avg","k":4,"q":4,"p":66},{"s":"Avg","k":4,"q":5,"p":70},{"s":"Avg","k":4,"q":6,"p":74},{"s":"Avg","k":4,"q":7,"p":77},{"s":"Avg","k":4,"q":8,"p":79},{"s":"Avg","k":4,"q":9,"p":82},{"s":"Avg","k":4,"q":10,"p":85},{"s":"Avg","k":4,"q":11,"p":88},{"s":"Avg","k":4,"q":12,"p":89},{"s":"Avg","k":4,"q":13,"p":90},{"s":"Avg","k":4,"q":14,"p":90},{"s":"Avg","k":4,"q":15,"p":91}
]
},
"hconcat":[
{
"title":{"text":"Decimation","fontSize":15,"fontWeight":"bold","font":"Liberation Sans","anchor":"start","align":"center","dx":81.5,"frame":"group","offset":8,"color":"#000"},
"data":{"name":"dec"},
"facet":{"row":{"field":"s","type":"nominal","sort":["A","B","C","D","E","F","G","Avg"],"title":"Sequences",
"header":{"labels":false,"titleAngle":90,"titleFontSize":18,"titleFontWeight":"bold","titleFont":"Liberation Sans","titleColor":"#000","titleBaseline":"top","titleAlign":"center","titlePadding":-13}}},
"spacing":9.4,
"spec":{"width":163,"height":121,
"mark":{"type":"line","clip":true},
"encoding":{
"x":{"field":"p","type":"quantitative","scale":{"domain":[0,100],"nice":false,"zero":false},"axis":{"orient":"top","values":[20,40,60,80,100],"labelAngle":90,"title":null}},
"y":{"field":"q","type":"quantitative","scale":{"domain":[1,15],"reverse":true,"nice":false,"zero":false},"axis":{"values":[5,10,15],"labelAngle":90,"title":null}},
"order":{"field":"q","type":"quantitative"},
"color":{"field":"k","type":"nominal","scale":{"domain":[24,12,6],"range":["#008000","#ff0000","#0000ff"]},
"legend":{"title":null,"orient":"none","legendX":5,"legendY":38,"direction":"horizontal","symbolType":"M0,0V11.25","symbolSize":64,"symbolStrokeWidth":3,"labelFontSize":14,"labelFont":"Liberation Sans","labelColor":"#000","columnPadding":7.5,"padding":8,
"encode":{"symbols":{"update":{"x":{"value":4},"y":{"value":0}}},"labels":{"update":{"x":{"value":4},"y":{"value":0},"angle":{"value":90},"dx":{"value":50},"align":{"value":"left"},"baseline":{"value":"middle"}}}}}},
"strokeDash":{"field":"k","type":"nominal","scale":{"domain":[24,12,6],"range":[[3,3],[10,4],[1,0]]},
"legend":{"title":null,"orient":"none","legendX":5,"legendY":38,"direction":"horizontal","symbolType":"M0,0V11.25","symbolSize":64,"symbolStrokeWidth":3,"labelFontSize":14,"labelFont":"Liberation Sans","labelColor":"#000","columnPadding":7.5,"padding":8,
"encode":{"symbols":{"update":{"x":{"value":4},"y":{"value":0}}},"labels":{"update":{"x":{"value":4},"y":{"value":0},"angle":{"value":90},"dx":{"value":50},"align":{"value":"left"},"baseline":{"value":"middle"}}}}}},
"strokeWidth":{"field":"k","type":"nominal","scale":{"domain":[24,12,6],"range":[3.2,3.5,2.3]},"legend":null}
}}
},
{
"title":{"text":"Max Features","fontSize":15,"fontWeight":"bold","font":"Liberation Sans","anchor":"start","align":"center","dx":81.5,"frame":"group","offset":8,"color":"#000"},
"data":{"name":"mf"},
"facet":{"row":{"field":"s","type":"nominal","sort":["A","B","C","D","E","F","G","Avg"],"title":null,"header":{"labels":false}}},
"spacing":9.4,
"spec":{"width":163,"height":121,
"mark":{"type":"line","clip":true},
"encoding":{
"x":{"field":"p","type":"quantitative","scale":{"domain":[0,100],"nice":false,"zero":false},"axis":{"orient":"top","values":[20,40,60,80,100],"labelAngle":90,"title":null}},
"y":{"field":"q","type":"quantitative","scale":{"domain":[1,15],"reverse":true,"nice":false,"zero":false},"axis":{"values":[5,10,15],"labels":false,"title":null}},
"order":{"field":"q","type":"quantitative"},
"color":{"field":"k","type":"nominal","scale":{"domain":[60,45,30,15],"range":["#ff00ff","#008000","#ff0000","#0000ff"]},
"legend":{"title":null,"orient":"none","legendX":5,"legendY":38,"direction":"horizontal","symbolType":"M0,0V11.25","symbolSize":64,"symbolStrokeWidth":3,"labelFontSize":14,"labelFont":"Liberation Sans","labelColor":"#000","columnPadding":7.5,"padding":8,
"encode":{"symbols":{"update":{"x":{"value":4},"y":{"value":0}}},"labels":{"update":{"x":{"value":4},"y":{"value":0},"angle":{"value":90},"dx":{"value":50},"align":{"value":"left"},"baseline":{"value":"middle"}}}}}},
"strokeDash":{"field":"k","type":"nominal","scale":{"domain":[60,45,30,15],"range":[[8,3,3,3],[3,3],[10,4],[1,0]]},
"legend":{"title":null,"orient":"none","legendX":5,"legendY":38,"direction":"horizontal","symbolType":"M0,0V11.25","symbolSize":64,"symbolStrokeWidth":3,"labelFontSize":14,"labelFont":"Liberation Sans","labelColor":"#000","columnPadding":7.5,"padding":8,
"encode":{"symbols":{"update":{"x":{"value":4},"y":{"value":0}}},"labels":{"update":{"x":{"value":4},"y":{"value":0},"angle":{"value":90},"dx":{"value":50},"align":{"value":"left"},"baseline":{"value":"middle"}}}}}},
"strokeWidth":{"field":"k","type":"nominal","scale":{"domain":[60,45,30,15],"range":[3.2,3.2,3.5,2.3]},"legend":null}
}}
},
{
"title":{"text":"Reference","fontSize":15,"fontWeight":"bold","font":"Liberation Sans","anchor":"start","align":"center","dx":81.5,"frame":"group","offset":8,"color":"#000"},
"data":{"name":"ref"},
"facet":{"row":{"field":"s","type":"nominal","sort":["A","B","C","D","E","F","G","Avg"],"title":null,"header":{"labels":false}}},
"spacing":9.4,
"spec":{"width":163,"height":121,
"mark":{"type":"line","clip":true},
"encoding":{
"x":{"field":"p","type":"quantitative","scale":{"domain":[0,100],"nice":false,"zero":false},"axis":{"orient":"top","values":[20,40,60,80,100],"labelAngle":90,"title":null}},
"y":{"field":"q","type":"quantitative","scale":{"domain":[1,15],"reverse":true,"nice":false,"zero":false},"axis":{"values":[5,10,15],"labels":false,"title":null}},
"order":{"field":"q","type":"quantitative"},
"color":{"field":"k","type":"nominal","scale":{"domain":["CAR","Ear"],"range":["#ff0000","#0000ff"]},
"legend":{"title":null,"orient":"none","legendX":5,"legendY":22,"direction":"horizontal","symbolType":"M0,0V11.25","symbolSize":64,"symbolStrokeWidth":3,"labelFontSize":14,"labelFont":"Liberation Sans","labelColor":"#000","columnPadding":7.5,"padding":8,
"encode":{"symbols":{"update":{"x":{"value":4},"y":{"value":0}}},"labels":{"update":{"x":{"value":4},"y":{"value":0},"angle":{"value":90},"dx":{"value":50},"align":{"value":"left"},"baseline":{"value":"middle"}}}}}},
"strokeDash":{"field":"k","type":"nominal","scale":{"domain":["CAR","Ear"],"range":[[10,4],[1,0]]},
"legend":{"title":null,"orient":"none","legendX":5,"legendY":22,"direction":"horizontal","symbolType":"M0,0V11.25","symbolSize":64,"symbolStrokeWidth":3,"labelFontSize":14,"labelFont":"Liberation Sans","labelColor":"#000","columnPadding":7.5,"padding":8,
"encode":{"symbols":{"update":{"x":{"value":4},"y":{"value":0}}},"labels":{"update":{"x":{"value":4},"y":{"value":0},"angle":{"value":90},"dx":{"value":50},"align":{"value":"left"},"baseline":{"value":"middle"}}}}}},
"strokeWidth":{"field":"k","type":"nominal","scale":{"domain":["CAR","Ear"],"range":[3.5,2.3]},"legend":null}
}}
},
{
"title":{"text":"Channel Set","fontSize":15,"fontWeight":"bold","font":"Liberation Sans","anchor":"start","align":"center","dx":81.5,"frame":"group","offset":8,"color":"#000"},
"data":{"name":"cs"},
"facet":{"row":{"field":"s","type":"nominal","sort":["A","B","C","D","E","F","G","Avg"],"title":null,
"header":{"labelOrient":"right","labelAngle":90,"labelAlign":"center","labelBaseline":"bottom","labelFontSize":15,"labelFontWeight":"bold","labelFont":"Liberation Sans","labelColor":"#000","labelPadding":-5,
"labelExpr":"datum.value == 'Avg' ? 'Average' : 'Subject ' + datum.value"}}},
"spacing":9.4,
"spec":{"width":163,"height":121,
"mark":{"type":"line","clip":true},
"encoding":{
"x":{"field":"p","type":"quantitative","scale":{"domain":[0,100],"nice":false,"zero":false},"axis":{"orient":"top","values":[20,40,60,80,100],"labelAngle":90,"title":null}},
"y":{"field":"q","type":"quantitative","scale":{"domain":[1,15],"reverse":true,"nice":false,"zero":false},"axis":{"values":[5,10,15],"labels":false,"title":null}},
"order":{"field":"q","type":"quantitative"},
"color":{"field":"k","type":"nominal","scale":{"domain":[4,3,2,1],"range":["#0000ff","#ff00ff","#008000","#ff0000"]},
"legend":{"title":null,"orient":"none","legendX":5,"legendY":46,"direction":"horizontal","symbolType":"M0,0V11.25","symbolSize":64,"symbolStrokeWidth":3,"labelFontSize":14,"labelFont":"Liberation Sans","labelColor":"#000","columnPadding":7.5,"padding":8,
"encode":{"symbols":{"update":{"x":{"value":4},"y":{"value":0}}},"labels":{"update":{"x":{"value":4},"y":{"value":0},"angle":{"value":90},"dx":{"value":50},"align":{"value":"left"},"baseline":{"value":"middle"}}}}}},
"strokeDash":{"field":"k","type":"nominal","scale":{"domain":[4,3,2,1],"range":[[1,0],[8,3,3,3],[3,3],[10,4]]},
"legend":{"title":null,"orient":"none","legendX":5,"legendY":46,"direction":"horizontal","symbolType":"M0,0V11.25","symbolSize":64,"symbolStrokeWidth":3,"labelFontSize":14,"labelFont":"Liberation Sans","labelColor":"#000","columnPadding":7.5,"padding":8,
"encode":{"symbols":{"update":{"x":{"value":4},"y":{"value":0}}},"labels":{"update":{"x":{"value":4},"y":{"value":0},"angle":{"value":90},"dx":{"value":50},"align":{"value":"left"},"baseline":{"value":"middle"}}}}}},
"strokeWidth":{"field":"k","type":"nominal","scale":{"domain":[4,3,2,1],"range":[2.3,3.2,3.2,3.5]},"legend":null}
}}
}
],
"spacing":5.5,
"resolve":{"scale":{"color":"independent","strokeDash":"independent","strokeWidth":"independent"}},
"config":{
"font":"Liberation Sans",
"view":{"stroke":"#a0a0a0","strokeWidth":1},
"axis":{"grid":true,"gridColor":"#a8a8a8","gridDash":[5,4],"gridWidth":1,"ticks":false,"domain":false,"labelFont":"Liberation Sans","labelFontSize":13,"labelColor":"#000","labelPadding":5},
"legend":{"strokeColor":"#a0a0a0","fillColor":"#ffffff","cornerRadius":0}
}
}
